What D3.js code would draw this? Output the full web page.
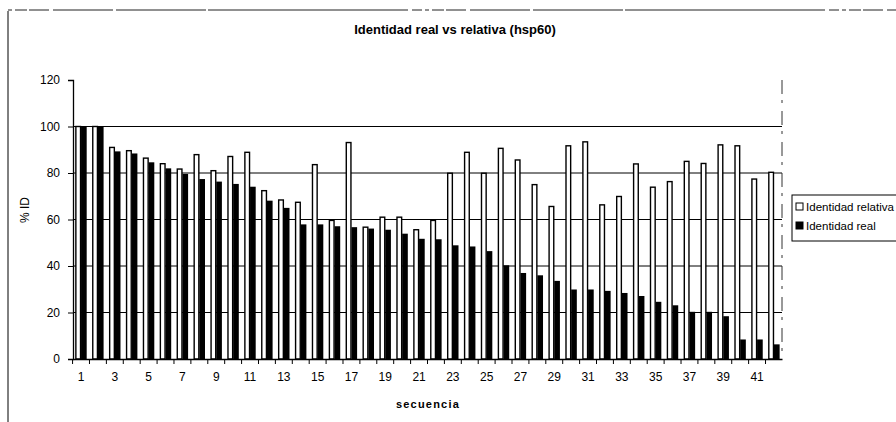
<!DOCTYPE html>
<html>
<head>
<meta charset="utf-8">
<script src="https://cdn.jsdelivr.net/npm/d3@7"></script>
<style>
  body { margin: 0; background: #fff; }
  text { font-family: "Liberation Sans Narrow", "Arial Narrow", "Liberation Sans", Arial, sans-serif; fill: #000; }
</style>
</head>
<body>
<svg id="chart"></svg>
<script>
let secuencias = d3.range(1, 43)

let identidadRelativa = [
    100, 100, 91, 89.6, 86.4, 84, 81.7, 87.9, 81, 87.1,
    88.9, 72.4, 68.4, 67.4, 83.6, 59.6, 93.1, 56.7, 61, 61,
    55.6, 59.6, 79.9, 88.9, 79.9, 90.6, 85.6, 75, 65.6, 91.7,
    93.4, 66.3, 69.9, 83.9, 73.9, 76.3, 85, 84.1, 92.1, 91.7,
    77.4, 80.3
]

let identidadReal = [
    100, 100, 89.3, 88.4, 84.6, 82, 79.6, 77.4, 76.3, 75.3,
    74.1, 68.1, 65, 57.9, 57.9, 57.1, 56.7, 56.1, 55.6, 53.9,
    51.7, 51.5, 48.9, 48.4, 46.4, 40.3, 37, 36, 33.6, 29.9,
    29.9, 29.3, 28.4, 27.1, 24.6, 23.1, 20.3, 20.3, 18.4, 8.4,
    8.4, 6.3
]

let yTicks = [0, 20, 40, 60, 80, 100, 120]
let series = ["Identidad relativa", "Identidad real"]

var svg = d3.select("#chart")
    .attr("width", 896)
    .attr("height", 422)

// outer frame (scanned look)
svg.append("line")
    .attr("x1", 8).attr("x2", 8).attr("y1", 11).attr("y2", 422)
    .attr("stroke", "#000").attr("stroke-width", 1)
svg.append("line")
    .attr("x1", 8).attr("x2", 896).attr("y1", 10).attr("y2", 10)
    .attr("stroke", "#222").attr("stroke-width", 1)
    .attr("stroke-dasharray", "4 3 12 2 20 4 60 3 90 2 200 4 10 3")

var margin = {left: 73, right: 782, top: 80, bottom: 359}

let scX = d3.scaleBand()
    .domain(secuencias)
    .range([margin.left, margin.right])
    .paddingInner(0.33)
    .paddingOuter(0.14)

let scSerie = d3.scaleBand()
    .domain(series)
    .range([0, scX.bandwidth()])

let scY = d3.scaleLinear()
    .domain([0, 120])
    .range([margin.bottom, margin.top])

// gridlines
svg.append("g")
    .selectAll("line")
    .data(yTicks.filter(d => d > 0 && d < 120))
    .enter().append("line")
    .attr("x1", margin.left)
    .attr("x2", margin.right)
    .attr("y1", d => scY(d))
    .attr("y2", d => scY(d))
    .attr("stroke", "#000")
    .attr("stroke-width", 1)

// right edge of plot area, faint
svg.append("line")
    .attr("x1", margin.right).attr("x2", margin.right)
    .attr("y1", scY(120)).attr("y2", scY(0))
    .attr("stroke", "#333").attr("stroke-dasharray", "14 6 3 8")

// bars
let grupos = svg.append("g")
    .selectAll("g")
    .data(secuencias)
    .enter().append("g")
    .attr("transform", d => `translate(${scX(d)},0)`)

grupos.append("rect")
    .attr("x", scSerie(series[0]) + 0.5)
    .attr("y", (d, i) => scY(identidadRelativa[i]))
    .attr("width", scSerie.bandwidth() - 1)
    .attr("height", (d, i) => scY(0) - scY(identidadRelativa[i]))
    .attr("fill", "#fff")
    .attr("stroke", "#000")
    .attr("stroke-width", 1.4)

grupos.append("rect")
    .attr("x", scSerie(series[1]))
    .attr("y", (d, i) => scY(identidadReal[i]))
    .attr("width", scSerie.bandwidth())
    .attr("height", (d, i) => scY(0) - scY(identidadReal[i]))
    .attr("fill", "#000")

// axes
let yAxis = d3.axisLeft(scY)
    .tickValues(yTicks)
    .tickSize(5)
    .tickPadding(8)

svg.append("g")
    .attr("transform", `translate(${margin.left},0)`)
    .call(yAxis)
    .call(g => g.selectAll("text").attr("font-size", 12))
    .call(g => g.select(".domain").attr("stroke-width", 1.3))

let xAxis = d3.axisBottom(scX)
    .tickSize(0)
    .tickPadding(13)
    .tickFormat(d => d % 2 === 1 ? d : "")

svg.append("g")
    .attr("transform", `translate(0,${margin.bottom})`)
    .call(xAxis)
    .call(g => g.selectAll("text").attr("font-size", 12))
    .call(g => g.select(".domain").attr("stroke-width", 1.3))

// tick marks between categories
svg.append("g")
    .selectAll("line")
    .data(secuencias)
    .enter().append("line")
    .attr("x1", d => scX(d) - scX.step() * scX.paddingInner() / 2)
    .attr("x2", d => scX(d) - scX.step() * scX.paddingInner() / 2)
    .attr("y1", margin.bottom)
    .attr("y2", margin.bottom + 5)
    .attr("stroke", "#000")

// titles
svg.append("text")
    .attr("x", 455).attr("y", 34)
    .attr("text-anchor", "middle")
    .attr("font-size", 13)
    .attr("font-weight", "bold")
    .text("Identidad real vs relativa (hsp60)")

svg.append("text")
    .attr("x", 428).attr("y", 408)
    .attr("text-anchor", "middle")
    .attr("font-size", 11)
    .attr("font-weight", "bold")
    .attr("letter-spacing", 1.2)
    .text("secuencia")

svg.append("text")
    .attr("transform", "translate(29,210) rotate(-90)")
    .attr("text-anchor", "middle")
    .attr("font-size", 12)
    .text("% ID")

// legend
let legend = svg.append("g").attr("transform", "translate(792,195)")
legend.append("rect")
    .attr("x", 0).attr("y", 0).attr("width", 120).attr("height", 46)
    .attr("fill", "#fff").attr("stroke", "#000")

let items = legend.selectAll("g.item")
    .data(series)
    .enter().append("g")
    .attr("class", "item")
    .attr("transform", (d, i) => `translate(4,${12 + i * 19})`)

items.append("rect")
    .attr("x", 0).attr("y", -4).attr("width", 7).attr("height", 7)
    .attr("fill", (d, i) => i === 0 ? "#fff" : "#000")
    .attr("stroke", "#000")

items.append("text")
    .attr("x", 10).attr("y", 4)
    .attr("font-size", 11.5)
    .attr("textLength", (d, i) => i === 0 ? 88 : null)
    .attr("lengthAdjust", "spacingAndGlyphs")
    .text(d => d)
</script>
</body>
</html>
